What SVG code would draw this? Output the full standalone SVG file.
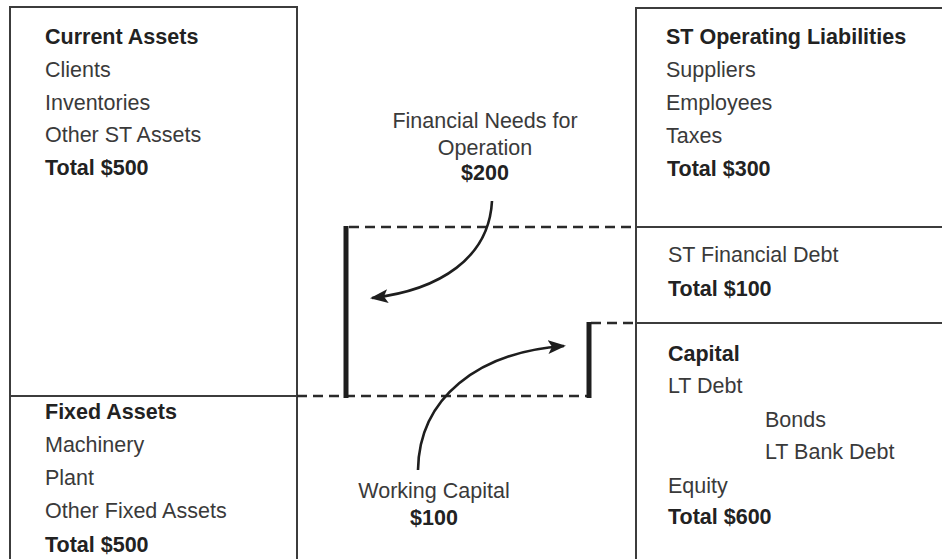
<svg xmlns="http://www.w3.org/2000/svg" width="942" height="559" viewBox="0 0 942 559">
  <style>
    text { font-family: "Liberation Sans", Arial, sans-serif; font-size: 21.5px; fill: #3a3a3a; }
    .b { font-weight: bold; fill: #222; }
    .c { text-anchor: middle; }
    .box { fill: none; stroke: #3c3c3c; stroke-width: 2; }
    .dash { fill: none; stroke: #2a2a2a; stroke-width: 2.6; stroke-dasharray: 10 6; }
    .bar { fill: none; stroke: #1e1e1e; stroke-width: 5; }
    .arrow { fill: none; stroke: #1e1e1e; stroke-width: 2.6; marker-end: url(#head); }
  </style>
  <defs>
    <marker id="head" markerUnits="userSpaceOnUse" markerWidth="20" markerHeight="16" refX="16" refY="7" orient="auto">
      <path d="M0,0 L18,7 L0,14 L4,7 Z" fill="#1e1e1e"/>
    </marker>
  </defs>
  <rect width="942" height="559" fill="#ffffff"/>

  <!-- Assets side -->
  <g id="current-assets">
    <path class="box" d="M10,570 V7 H297 V570"/>
    <text class="b" x="45" y="44">Current Assets</text>
    <text x="45" y="77">Clients</text>
    <text x="45" y="109.5">Inventories</text>
    <text x="45" y="142">Other ST Assets</text>
    <text class="b" x="45" y="175">Total $500</text>
  </g>
  <g id="fixed-assets">
    <line class="box" x1="10" y1="396" x2="297" y2="396"/>
    <text class="b" x="45" y="419">Fixed Assets</text>
    <text x="45" y="452">Machinery</text>
    <text x="45" y="485">Plant</text>
    <text x="45" y="518">Other Fixed Assets</text>
    <text class="b" x="45" y="552">Total $500</text>
  </g>

  <!-- Liabilities side -->
  <g id="st-operating-liabilities">
    <path class="box" d="M636,570 V8 H950"/>
    <text class="b" x="666" y="44">ST Operating Liabilities</text>
    <text x="666" y="77">Suppliers</text>
    <text x="666" y="110">Employees</text>
    <text x="666" y="143">Taxes</text>
    <text class="b" x="667" y="176">Total $300</text>
  </g>
  <g id="st-financial-debt">
    <line class="box" x1="636" y1="227" x2="950" y2="227"/>
    <text x="668" y="262">ST Financial Debt</text>
    <text class="b" x="668" y="296">Total $100</text>
  </g>
  <g id="capital">
    <line class="box" x1="636" y1="323" x2="950" y2="323"/>
    <text class="b" x="668" y="361">Capital</text>
    <text x="668" y="393">LT Debt</text>
    <text x="765" y="427">Bonds</text>
    <text x="765" y="459">LT Bank Debt</text>
    <text x="668" y="493">Equity</text>
    <text class="b" x="668" y="524">Total $600</text>
  </g>

  <!-- Labels -->
  <g id="financial-needs">
    <text class="c" x="485" y="128">Financial Needs for</text>
    <text class="c" x="485" y="155">Operation</text>
    <text class="b c" x="485" y="180">$200</text>
  </g>
  <g id="working-capital">
    <text class="c" x="434" y="498">Working Capital</text>
    <text class="b c" x="434" y="525">$100</text>
  </g>

  <!-- Connectors: dashed level lines, brackets and arrows -->
  <g id="connectors">
    <line class="dash" x1="349" y1="227" x2="636" y2="227"/>
    <line class="dash" x1="297" y1="396" x2="588" y2="396"/>
    <line class="dash" x1="591" y1="323" x2="636" y2="323"/>
    <line class="bar" x1="346" y1="226" x2="346" y2="398"/>
    <line class="bar" x1="589" y1="322" x2="589" y2="398"/>
    <path class="arrow" d="M492,201 C489,258 440,290 372,298"/>
    <path class="arrow" d="M418,470 C419,398 478,352 564,346"/>
  </g>
</svg>
